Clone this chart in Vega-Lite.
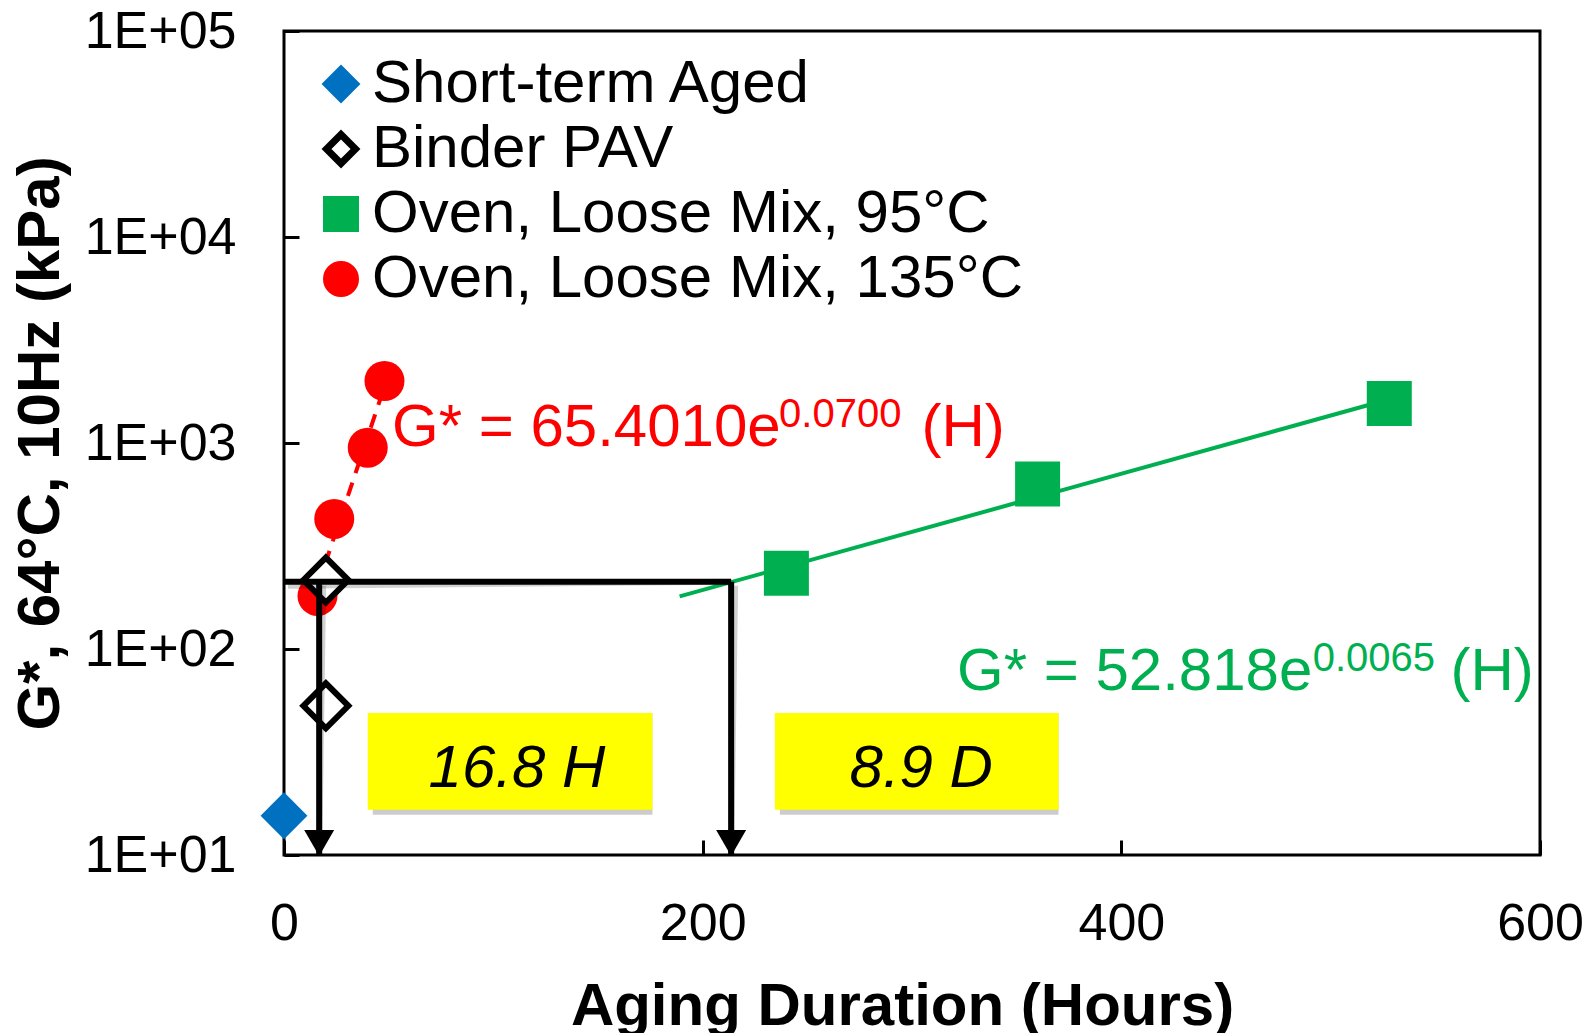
{
  "$schema": "https://vega.github.io/schema/vega-lite/v6.json",
  "width": 1256,
  "height": 824,
  "autosize": {"type": "none"},
  "padding": {"left": 284, "top": 31, "right": 53, "bottom": 178},
  "background": "white",
  "config": {
    "font": "Liberation Sans",
    "view": {"stroke": "black", "strokeWidth": 3},
    "axis": {
      "grid": false, "domain": false, "ticks": true, "tickColor": "black", "tickWidth": 3, "tickSize": -15,
      "labelColor": "black", "labelFont": "Liberation Sans", "labelFontSize": 52,
      "titleFont": "Liberation Sans", "titleFontSize": 60, "titleFontWeight": "bold", "titleColor": "black"
    }
  },
  "datasets": {
    "points": [
      {"series": "Oven, Loose Mix, 135°C", "hours": 16, "G": 181},
      {"series": "Oven, Loose Mix, 135°C", "hours": 24, "G": 428},
      {"series": "Oven, Loose Mix, 135°C", "hours": 40, "G": 949},
      {"series": "Oven, Loose Mix, 135°C", "hours": 48, "G": 2000},
      {"series": "Oven, Loose Mix, 95°C", "hours": 240, "G": 233},
      {"series": "Oven, Loose Mix, 95°C", "hours": 360, "G": 632},
      {"series": "Oven, Loose Mix, 95°C", "hours": 528, "G": 1553},
      {"series": "Short-term Aged", "hours": 0, "G": 15.5},
      {"series": "Binder PAV", "hours": 20, "G": 216},
      {"series": "Binder PAV", "hours": 20, "G": 53}
    ],
    "trend": [
      {"fit": "135", "hours": 16, "G": 200},
      {"fit": "135", "hours": 48, "G": 1880},
      {"fit": "95", "hours": 189, "G": 180},
      {"fit": "95", "hours": 528, "G": 1630}
    ],
    "arrows": [
      {"hours": 0, "hours2": 213.6, "G": 212, "G2": 212},
      {"hours": 16.8, "hours2": 16.8, "G": 212, "G2": 10},
      {"hours": 213.6, "hours2": 213.6, "G": 212, "G2": 10}
    ],
    "heads": [
      {"hours": 16.8, "G": 10},
      {"hours": 213.6, "G": 10}
    ],
    "boxes": [
      {"x1": 40, "x2": 176, "y1": 16.6, "y2": 48.9, "label": "16.8 H", "xc": 111.3, "yb": 21.4},
      {"x1": 234.5, "x2": 370, "y1": 16.6, "y2": 48.9, "label": "8.9 D", "xc": 304.4, "yb": 21.4}
    ],
    "eqRed": [
      {"t": "G* = 65.4010e", "hours": 51.6, "G": 966, "part": "main"},
      {"t": "0.0700", "hours": 236.5, "G": 1197, "part": "sup"},
      {"t": "(H)", "hours": 304.5, "G": 966, "part": "main"}
    ],
    "eqGreen": [
      {"t": "G* = 52.818e", "hours": 321.5, "G": 63.2, "part": "main"},
      {"t": "0.0065", "hours": 491.4, "G": 78.2, "part": "sup"},
      {"t": "(H)", "hours": 557.2, "G": 63.2, "part": "main"}
    ]
  },
  "encoding": {
    "x": {"field": "hours", "type": "quantitative",
      "scale": {"domain": [0, 600], "nice": false, "zero": true},
      "axis": {"values": [0, 200, 400, 600], "title": "Aging Duration (Hours)", "labelPadding": 58, "titlePadding": 28, "labelFlush": false, "titleX": 618}},
    "y": {"field": "G", "type": "quantitative",
      "scale": {"type": "log", "domain": [10, 100000], "nice": false},
      "axis": {"values": [10, 100, 1000, 10000, 100000], "title": "G*, 64°C, 10Hz (kPa)",
        "labelExpr": "'1E+0' + round(log(datum.value) / LN10)", "labelPadding": 63, "titlePadding": 13, "labelFlush": false}}
  },
  "layer": [
    {
      "data": {"name": "trend"},
      "transform": [{"filter": "datum.fit === '135'"}],
      "mark": {"type": "line", "color": "#FF0000", "strokeWidth": 4, "strokeDash": [14, 10]}
    },
    {
      "data": {"name": "trend"},
      "transform": [{"filter": "datum.fit === '95'"}],
      "mark": {"type": "line", "color": "#00B050", "strokeWidth": 4}
    },
    {
      "data": {"name": "points"},
      "mark": {"type": "point", "filled": true, "opacity": 1},
      "encoding": {
        "fill": {"field": "series", "type": "nominal",
          "scale": {"domain": ["Short-term Aged", "Binder PAV", "Oven, Loose Mix, 95°C", "Oven, Loose Mix, 135°C"],
            "range": ["#0070C0", "#FFFFFF", "#00B050", "#FF0000"]},
          "legend": {
            "title": null, "orient": "none", "legendX": 27, "legendY": 23, "padding": 0,
            "labelFontSize": 60, "labelColor": "black", "labelFont": "Liberation Sans", "labelOffset": 1,
            "symbolSize": 841, "symbolStrokeWidth": 7, "symbolOpacity": 1, "rowPadding": 5, "labelLimit": 1000
          }},
        "stroke": {"field": "series", "type": "nominal",
          "scale": {"domain": ["Short-term Aged", "Binder PAV", "Oven, Loose Mix, 95°C", "Oven, Loose Mix, 135°C"],
            "range": ["#0070C0", "#000000", "#00B050", "#FF0000"]}},
        "shape": {"field": "series", "type": "nominal",
          "scale": {"domain": ["Short-term Aged", "Binder PAV", "Oven, Loose Mix, 95°C", "Oven, Loose Mix, 135°C"],
            "range": ["diamond", "diamond", "square", "circle"]}},
        "size": {"condition": [
          {"test": "datum.series === 'Short-term Aged'", "value": 2200},
          {"test": "datum.series === 'Binder PAV'", "value": 2025},
          {"test": "datum.series === 'Oven, Loose Mix, 95°C'", "value": 2025}
        ], "value": 1600},
        "strokeWidth": {"condition": {"test": "datum.series === 'Binder PAV'", "value": 6}, "value": 0}
      }
    },
    {
      "data": {"name": "arrows"},
      "mark": {"type": "rule", "color": "#000000", "strokeWidth": 6, "opacity": 0.18, "xOffset": 4, "yOffset": 4},
      "encoding": {"x2": {"field": "hours2"}, "y2": {"field": "G2"}}
    },
    {
      "data": {"name": "arrows"},
      "mark": {"type": "rule", "color": "#000000", "strokeWidth": 6},
      "encoding": {"x2": {"field": "hours2"}, "y2": {"field": "G2"}}
    },
    {
      "data": {"name": "heads"},
      "mark": {"type": "point", "shape": "triangle-down", "filled": true, "opacity": 1, "color": "#000000", "size": 900, "yOffset": -12},
      "encoding": {}
    },
    {
      "data": {"name": "boxes"},
      "mark": {"type": "rect", "fill": "#000000", "opacity": 0.2, "xOffset": 5, "yOffset": 5},
      "encoding": {
        "x": {"field": "x1", "type": "quantitative"}, "x2": {"field": "x2"},
        "y": {"field": "y1", "type": "quantitative"}, "y2": {"field": "y2"}
      }
    },
    {
      "data": {"name": "boxes"},
      "mark": {"type": "rect", "fill": "#FFFF00", "opacity": 1},
      "encoding": {
        "x": {"field": "x1", "type": "quantitative"}, "x2": {"field": "x2"},
        "y": {"field": "y1", "type": "quantitative"}, "y2": {"field": "y2"}
      }
    },
    {
      "data": {"name": "boxes"},
      "mark": {"type": "text", "font": "Liberation Sans", "fontStyle": "italic", "fontSize": 60, "color": "#000000", "align": "center", "baseline": "alphabetic"},
      "encoding": {
        "x": {"field": "xc", "type": "quantitative"},
        "y": {"field": "yb", "type": "quantitative"},
        "text": {"field": "label"}
      }
    },
    {
      "data": {"name": "eqRed"},
      "mark": {"type": "text", "font": "Liberation Sans", "color": "#FF0000", "align": "left", "baseline": "alphabetic"},
      "encoding": {
        "text": {"field": "t"},
        "size": {"condition": {"test": "datum.part === 'sup'", "value": 40}, "value": 60}
      }
    },
    {
      "data": {"name": "eqGreen"},
      "mark": {"type": "text", "font": "Liberation Sans", "color": "#00B050", "align": "left", "baseline": "alphabetic"},
      "encoding": {
        "text": {"field": "t"},
        "size": {"condition": {"test": "datum.part === 'sup'", "value": 40}, "value": 60}
      }
    }
  ]
}
